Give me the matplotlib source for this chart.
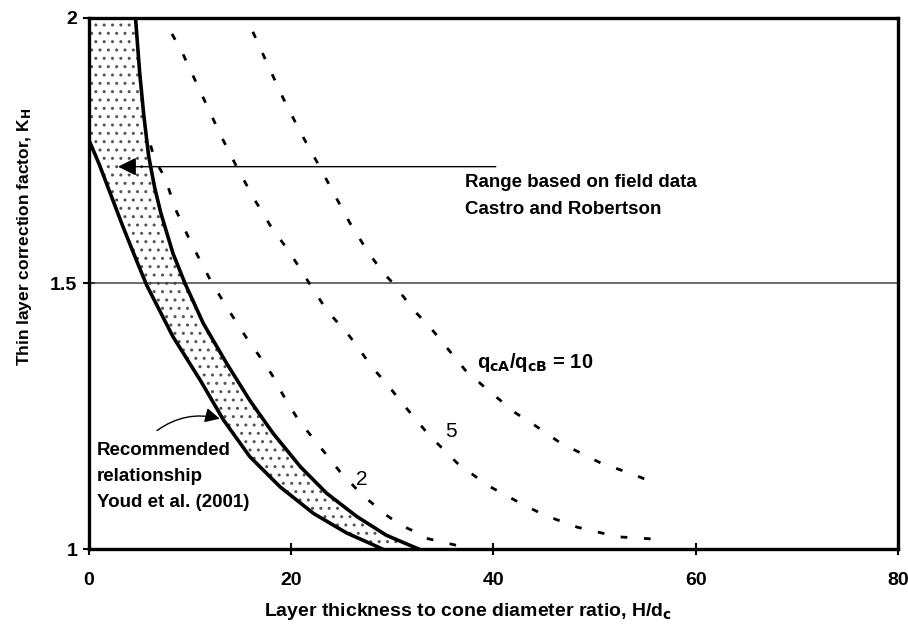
import matplotlib
matplotlib.use('Agg')
import matplotlib.pyplot as plt
import numpy as np
from matplotlib.patches import FancyArrowPatch

plt.rcParams['font.family'] = ['Liberation Sans', 'DejaVu Sans']
plt.rcParams['font.weight'] = 'bold'
plt.rcParams['axes.labelweight'] = 'bold'
plt.rcParams['mathtext.default'] = 'regular'
plt.rcParams['hatch.linewidth'] = 1.0
plt.rcParams['hatch.color'] = '#555555'

# recommended relationship (lower bound), Youd et al. (2001)
lower_x = [0.0, 1.0, 2.2, 3.4, 4.6, 5.7, 8.3, 11.0, 13.3, 15.9, 18.9, 22.2, 25.5, 28.1, 29.0]
lower_k = [1.77, 1.725, 1.665, 1.605, 1.548, 1.497, 1.40, 1.318, 1.243, 1.174, 1.117, 1.067, 1.03, 1.008, 1.0]

# upper bound of field-data range (Castro and Robertson)
upper_x = [4.6, 5.0, 5.4, 5.9, 6.5, 7.1, 8.3, 9.5, 11.3, 13.6, 15.9, 18.2, 20.9, 23.5, 26.5, 29.4, 32.1, 32.6]
upper_k = [2.0, 1.90, 1.82, 1.74, 1.68, 1.633, 1.557, 1.50, 1.425, 1.35, 1.28, 1.218, 1.155, 1.105, 1.061, 1.026, 1.004, 1.0]

# theoretical curves for q_cA/q_cB = 2, 5, 10
q2_x = [6.1, 6.5, 7.5, 8.6, 10.1, 12.1, 13.8, 15.6, 16.9, 18.1, 19.1, 20.7, 22.7, 24.8, 27.0, 29.4, 30.8, 32.2, 33.4, 37.0]
q2_k = [1.76, 1.733, 1.70, 1.638, 1.576, 1.503, 1.45, 1.397, 1.362, 1.328, 1.293, 1.243, 1.196, 1.146, 1.102, 1.064, 1.045, 1.033, 1.02, 1.004]

q5_x = [8.2, 9.1, 13.0, 14.6, 16.4, 17.9, 19.9, 21.9, 23.5, 25.8, 28.1, 29.4, 31.4, 33.6, 36.4, 39.4, 42.4, 45.0, 48.3, 52.3, 55.7]
q5_k = [1.97, 1.94, 1.78, 1.72, 1.657, 1.61, 1.557, 1.497, 1.45, 1.40, 1.34, 1.312, 1.265, 1.215, 1.162, 1.12, 1.089, 1.064, 1.041, 1.023, 1.019]

q10_x = [16.2, 17.7, 19.2, 20.9, 22.6, 24.4, 25.8, 27.6, 29.1, 30.1, 32.1, 33.8, 37.2, 39.4, 42.2, 44.0, 46.6, 50.6, 53.9, 55.7]
q10_k = [1.974, 1.911, 1.849, 1.785, 1.727, 1.663, 1.614, 1.559, 1.52, 1.50, 1.45, 1.416, 1.337, 1.30, 1.256, 1.234, 1.20, 1.162, 1.14, 1.126]

fig = plt.figure(figsize=(9.08, 6.35), dpi=100)
ax = fig.add_axes([0.098, 0.1354, 0.891, 0.8363])

# stippled band between the two bounds
band_x = [0.0] + upper_x + lower_x[::-1]
band_k = [2.0] + upper_k + lower_k[::-1]
ax.fill(band_x, band_k, facecolor='white', edgecolor='#555555', hatch='..', lw=0, zorder=1)

ax.axhline(1.5, color='#444444', lw=1.1, zorder=2)

ax.plot(lower_x, lower_k, color='black', lw=2.6, zorder=4, solid_joinstyle='round')
ax.plot(upper_x, upper_k, color='black', lw=2.6, zorder=4, solid_joinstyle='round')
for xs, ks in [(q2_x, q2_k), (q5_x, q5_k), (q10_x, q10_k)]:
    ax.plot(xs, ks, color='black', lw=2.0, linestyle=(0, (2.4, 6.0)), zorder=3)

bold = dict(fontweight='bold', fontsize=13.5, va='center', ha='left')
ax.annotate('', xy=(2.6, 1.72), xytext=(40.5, 1.72),
            arrowprops=dict(arrowstyle='-|>', color='black', lw=1.0, mutation_scale=28), zorder=5)
ax.text(37.2, 1.69, 'Range based on field data', **bold)
ax.text(37.2, 1.64, 'Castro and Robertson', **bold)

ax.add_patch(FancyArrowPatch((6.5, 1.22), (13.2, 1.244), connectionstyle='arc3,rad=-0.25',
                             arrowstyle='-|>', mutation_scale=22, color='black', lw=1.0, zorder=5))
ax.text(0.8, 1.186, 'Recommended', **bold)
ax.text(0.8, 1.136, 'relationship', **bold)
ax.text(0.8, 1.088, 'Youd et al. (2001)', **bold)

ax.text(26.4, 1.13, '2', fontsize=15, fontweight='normal', va='center', ha='left')
ax.text(35.2, 1.222, '5', fontsize=15, fontweight='normal', va='center', ha='left')
ax.text(38.4, 1.352, r'q$_{\mathbf{cA}}$/q$_{\mathbf{cB}}$ = 10', fontsize=14.5, fontweight='bold',
        va='center', ha='left')

ax.set_xlim(0, 80)
ax.set_ylim(1, 2)
ax.set_xticks([0, 20, 40, 60, 80])
ax.set_yticks([1, 1.5, 2])
ax.set_yticklabels(['1', '1.5', '2'])
ax.tick_params(direction='inout', length=9, width=1.5, labelsize=14)
ax.tick_params(axis='x', pad=12)
ax.tick_params(axis='y', pad=4)
for lab in ax.get_xticklabels() + ax.get_yticklabels():
    lab.set_fontweight('bold')
for s in ax.spines.values():
    s.set_linewidth(2.4)

ax.set_xlabel(r'Layer thickness to cone diameter ratio, H/d$_{\mathbf{c}}$', fontsize=14,
              fontweight='bold')
ax.set_ylabel(r'Thin layer correction factor, K$_{\mathbf{H}}$', fontsize=12.5,
              fontweight='bold')
ax.xaxis.set_label_coords(0.468, -0.097)
ax.yaxis.set_label_coords(-0.068, 0.588)

fig.savefig('out.png', dpi=100)
